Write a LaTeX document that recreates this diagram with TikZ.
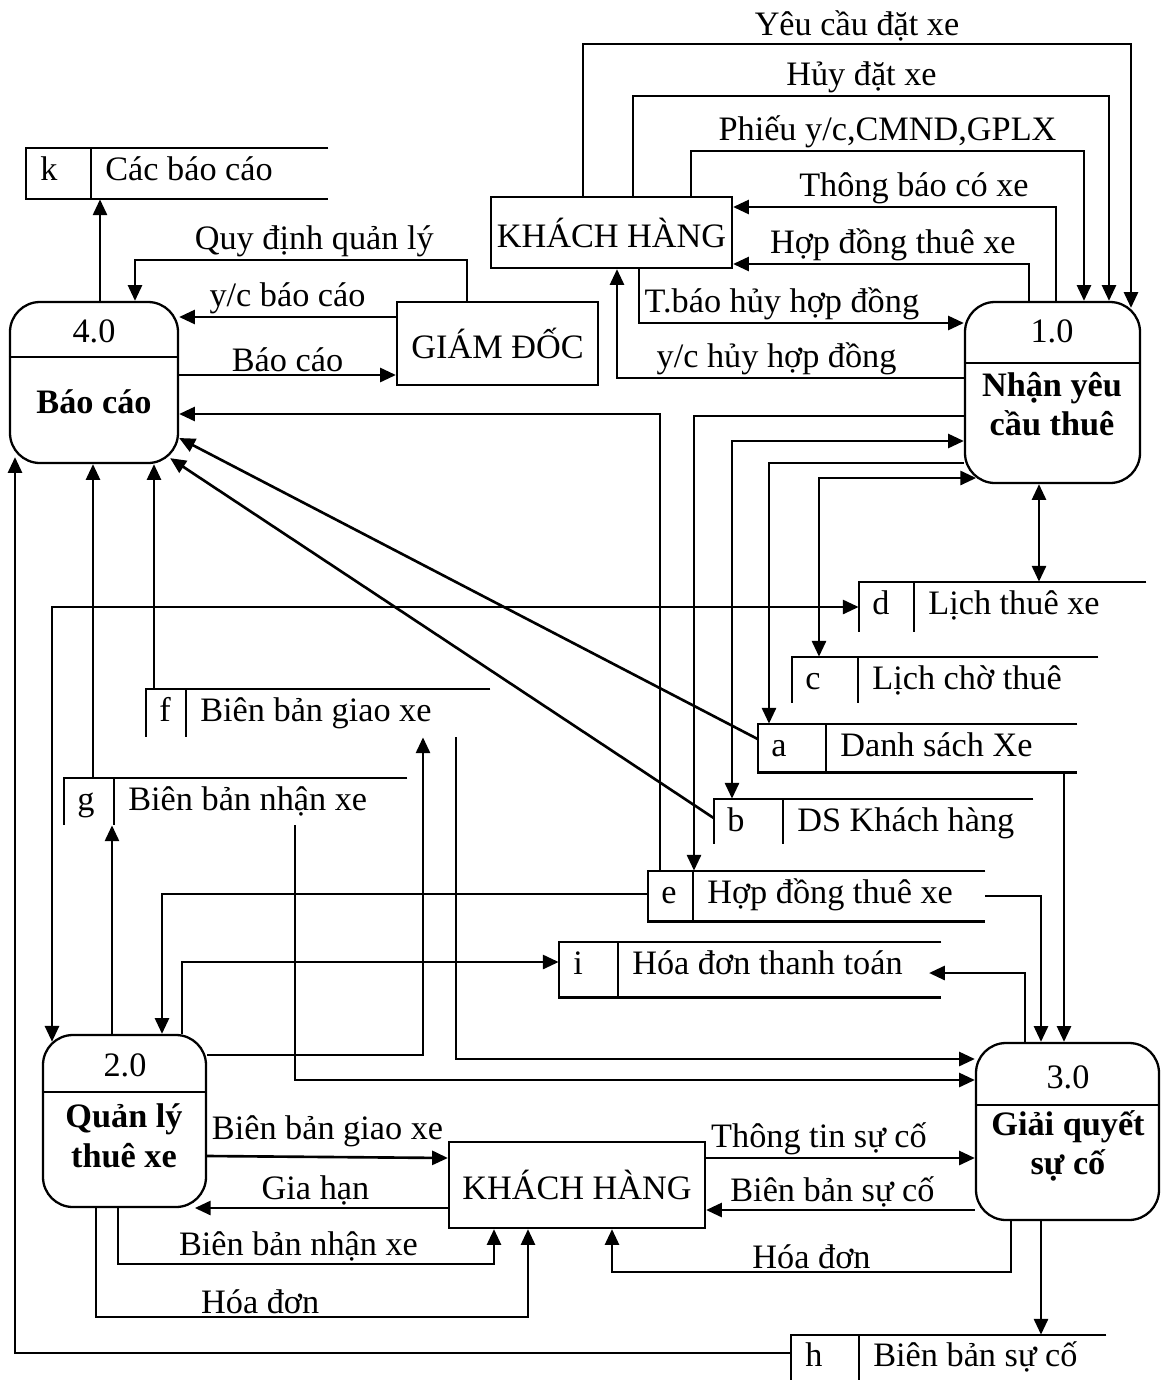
\documentclass[tikz,border=0pt]{standalone}
\usepackage{fontspec}
\setmainfont{Liberation Serif}
\usetikzlibrary{positioning, arrows.meta, fit, calc}

\begin{document}
\begin{tikzpicture}[x=0.02cm, y=-0.02cm, >={Triangle[length=9pt, width=8pt]},
      font=\fontsize{19.5}{22.5}\selectfont,
      proc/.style={draw, line width=1.3pt, rounded corners=0.6cm, inner sep=0pt},
      ext/.style={draw, line width=1.3pt, inner sep=0pt},
      store/.style={inner sep=0pt},
      stxt/.style={anchor=base west, inner sep=0pt},
      title/.style={font=\fontsize{19.5}{22.5}\selectfont\bfseries, align=center},
      line/.style={line width=1.3pt},
      flow/.style={->, line width=1.5pt},
      both/.style={<->, line width=1.5pt},
      lbl/.style={above, inner sep=1pt}]
  \useasboundingbox (0,0) rectangle (1161,1380);

  % processes
  \node[proc, fit={(10,302) (178,463)}] (p4) {};
  \draw[line] (p4.west |- 0,357) -- (p4.east |- 0,357);
  \node (p4-id) at (94,331) {4.0};
  \node[title] (p4-name) at (94,402) {Báo cáo};

  \node[proc, fit={(965,302) (1140,483)}] (p1) {};
  \draw[line] (p1.west |- 0,363) -- (p1.east |- 0,363);
  \node (p1-id) at (1052,331) {1.0};
  \node[title] (p1-name) at (1052,404) {Nhận yêu\\cầu thuê};

  \node[proc, fit={(43,1035) (206,1207)}] (p2) {};
  \draw[line] (p2.west |- 0,1092) -- (p2.east |- 0,1092);
  \node (p2-id) at (125,1065) {2.0};
  \node[title] (p2-name) at (124,1136) {Quản lý\\thuê xe};

  \node[proc, fit={(976,1043) (1159,1220)}] (p3) {};
  \draw[line] (p3.west |- 0,1105) -- (p3.east |- 0,1105);
  \node (p3-id) at (1068,1077) {3.0};
  \node[title] (p3-name) at (1068,1146) {Giải quyết\\sự cố};

  % external agents
  \node[ext, minimum width=4.82cm, minimum height=1.42cm] (kh1) at (611.5,232.5) {KHÁCH HÀNG};
  \node[ext, minimum width=4.02cm, minimum height=1.66cm] (gd) at (497.5,343.5) {GIÁM ĐỐC};
  \node[ext, minimum width=5.12cm, minimum height=1.72cm] (kh2) at (577,1185) {KHÁCH HÀNG};

  % data stores
  \node[store, fit={(26,148) (328,199)}] (k) {};
  \draw[line] (k.north east) -- (k.north west) -- (k.south west) -- (k.south east);
  \draw[line] (k.north -| 91,0) -- (k.south -| 91,0);
  \node[stxt] (k-id) at (40,180) {k};
  \node[stxt] (k-txt) at (105,180) {Các báo cáo};

  \node[store, fit={(859,582) (1146,632)}] (d) {};
  \draw[line] (d.north east) -- (d.north west) -- (d.south west);
  \draw[line] (d.north -| 914,0) -- (d.south -| 914,0);
  \node[stxt] (d-id) at (872,614) {d};
  \node[stxt] (d-txt) at (928,614) {Lịch thuê xe};

  \node[store, fit={(792,657) (1098,703)}] (c) {};
  \draw[line] (c.north east) -- (c.north west) -- (c.south west);
  \draw[line] (c.north -| 858,0) -- (c.south -| 858,0);
  \node[stxt] (c-id) at (805,689) {c};
  \node[stxt] (c-txt) at (872,689) {Lịch chờ thuê};

  \node[store, fit={(146,689) (490,737)}] (f) {};
  \draw[line] (f.north east) -- (f.north west) -- (f.south west);
  \draw[line] (f.north -| 186,0) -- (f.south -| 186,0);
  \node[stxt] (f-id) at (159,721) {f};
  \node[stxt] (f-txt) at (200,721) {Biên bản giao xe};

  \node[store, fit={(758,724) (1077,772)}] (a) {};
  \draw[line] (a.north east) -- (a.north west) -- (a.south west) -- (a.south east);
  \draw[line] (a.north -| 826,0) -- (a.south -| 826,0);
  \node[stxt] (a-id) at (771,756) {a};
  \node[stxt] (a-txt) at (840,756) {Danh sách Xe};

  \node[store, fit={(64,778) (407,825)}] (g) {};
  \draw[line] (g.north east) -- (g.north west) -- (g.south west);
  \draw[line] (g.north -| 114,0) -- (g.south -| 114,0);
  \node[stxt] (g-id) at (77,810) {g};
  \node[stxt] (g-txt) at (128,810) {Biên bản nhận xe};

  \node[store, fit={(714,799) (1033,844)}] (b) {};
  \draw[line] (b.north east) -- (b.north west) -- (b.south west);
  \draw[line] (b.north -| 783,0) -- (b.south -| 783,0);
  \node[stxt] (b-id) at (727,831) {b};
  \node[stxt] (b-txt) at (797,831) {DS Khách hàng};

  \node[store, fit={(648,871) (985,921)}] (e) {};
  \draw[line] (e.north east) -- (e.north west) -- (e.south west) -- (e.south east);
  \draw[line] (e.north -| 693,0) -- (e.south -| 693,0);
  \node[stxt] (e-id) at (661,903) {e};
  \node[stxt] (e-txt) at (707,903) {Hợp đồng thuê xe};

  \node[store, fit={(559,942) (941,997)}] (i) {};
  \draw[line] (i.north east) -- (i.north west) -- (i.south west) -- (i.south east);
  \draw[line] (i.north -| 618,0) -- (i.south -| 618,0);
  \node[stxt] (i-id) at (573,974) {i};
  \node[stxt] (i-txt) at (632,974) {Hóa đơn thanh toán};

  \node[store, fit={(791,1335) (1106,1380)}] (h) {};
  \draw[line] (h.north east) -- (h.north west) -- (h.south west);
  \draw[line] (h.north -| 859,0) -- (h.south -| 859,0);
  \node[stxt] (h-id) at (805,1366) {h};
  \node[stxt] (h-txt) at (873,1366) {Biên bản sự cố};

  % customer <-> 1.0
  \draw[flow, shorten >=-4pt] (kh1.north -| 583,0) |- (1131,44) node[lbl, pos=0.75] {Yêu cầu đặt xe} -- (p1.north -| 1131,0);
  \draw[flow] (kh1.north -| 633,0) |- (1109,96) node[lbl, pos=0.74] {Hủy đặt xe} -- (p1.north -| 1109,0);
  \draw[flow] (kh1.north -| 691,0) |- (1084,151) node[lbl, pos=0.75] {Phiếu y/c,CMND,GPLX} -- (p1.north -| 1084,0);
  \draw[flow] (p1.north -| 1056,0) |- (kh1.east |- 0,207) node[lbl, pos=0.72] {Thông báo có xe};
  \draw[flow] (p1.north -| 1029,0) |- (kh1.east |- 0,264) node[lbl, pos=0.73] {Hợp đồng thuê xe};
  \draw[flow] (kh1.south -| 639,0) |- (p1.west |- 0,323) node[lbl, pos=0.72] {T.báo hủy hợp đồng};
  \draw[flow] (p1.west |- 0,378) -| (kh1.south -| 617,0) node[lbl, pos=0.27] {y/c hủy hợp đồng};

  % director <-> 4.0
  \draw[flow] (gd.north -| 467,0) |- (135,260) node[lbl, pos=0.73] {Quy định quản lý} -- (p4.north -| 135,0);
  \draw[flow] (gd.west |- 0,317) -- (p4.east |- 0,317) node[lbl, midway] {y/c báo cáo};
  \draw[flow] (p4.east |- 0,375) -- (gd.west |- 0,375) node[lbl, midway] {Báo cáo};

  % into / out of 4.0
  \draw[flow] (p4.north -| 100,0) -- (k.south -| 100,0);
  \draw[flow] (e.north -| 660,0) |- (p4.east |- 0,414);
  \draw[flow] (a.west |- 0,739) -- (p4.east |- 0,438);
  \draw[flow] (b.west |- 0,818) -- ($(p4.south east)+(-9,-6)$);
  \draw[flow] (f.north -| 154,0) -- (p4.south -| 154,0);
  \draw[flow] (g.north -| 93,0) -- (p4.south -| 93,0);
  \draw[flow, shorten >=-4pt] (h.west |- 0,1353) -| (p4.south -| 15,0);

  % 1.0 and its stores
  \draw[flow] (p1.west |- 0,416) -| (e.north -| 694,0);
  \draw[both] (b.north -| 732,0) |- (p1.west |- 0,441);
  \draw[flow] (p1.west |- 0,463) -| (a.north -| 769,0);
  \draw[both, shorten >=-7pt] (c.north -| 819,0) |- (p1.west |- 0,478);
  \draw[both] (p1.south -| 1039,0) -- (d.north -| 1039,0);

  % 2.0 and its stores
  \draw[both, shorten >=-4.5pt] (d.west |- 0,607) -| (p2.north -| 52,0);
  \draw[flow] (e.west |- 0,894) -| (p2.north -| 162,0);
  \draw[flow] (p2.north -| 182,0) |- (i.west |- 0,962);
  \draw[flow] (p2.north -| 112,0) -- (g.south -| 112,0);
  \draw[flow] (p2.east |- 0,1055) -| (f.south -| 423,0);

  % 3.0 and its stores
  \draw[flow] (f.south -| 456,0) |- (p3.west |- 0,1059);
  \draw[flow] (g.south -| 295,0) |- (p3.west |- 0,1080);
  \draw[flow] (e.east |- 0,896) -| (p3.north -| 1041,0);
  \draw[flow] (a.south -| 1064,0) -- (p3.north -| 1064,0);
  \draw[flow, shorten >=-7pt] (p3.north -| 1025,0) |- (i.east |- 0,973);
  \draw[flow] (p3.south -| 1041,0) -- (h.north -| 1041,0);

  % customer (bottom)
  \draw[flow] (p2.east |- 0,1156) -- (kh2.west |- 0,1158) node[lbl, midway, yshift=4pt] {Biên bản giao xe};
  \draw[flow, shorten >=-7pt] (kh2.west |- 0,1208) -- (p2.east |- 0,1208) node[lbl, pos=0.55] {Gia hạn};
  \draw[flow] (p2.south -| 118,0) -- (118,1264) -| (kh2.south -| 494,0) node[lbl, pos=0.24] {Biên bản nhận xe};
  \draw[flow] (p2.south -| 96,0) -- (96,1317) -| (kh2.south -| 528,0) node[lbl, pos=0.19] {Hóa đơn};
  \draw[flow] (kh2.east |- 0,1158) -- (p3.west |- 0,1158) node[lbl, pos=0.42] {Thông tin sự cố};
  \draw[flow] (p3.west |- 0,1210) -- (kh2.east |- 0,1210) node[lbl, pos=0.53] {Biên bản sự cố};
  \draw[flow] (p3.south -| 1011,0) -- (1011,1272) -| (kh2.south -| 612,0) node[lbl, pos=0.25] {Hóa đơn};
\end{tikzpicture}
\end{document}
